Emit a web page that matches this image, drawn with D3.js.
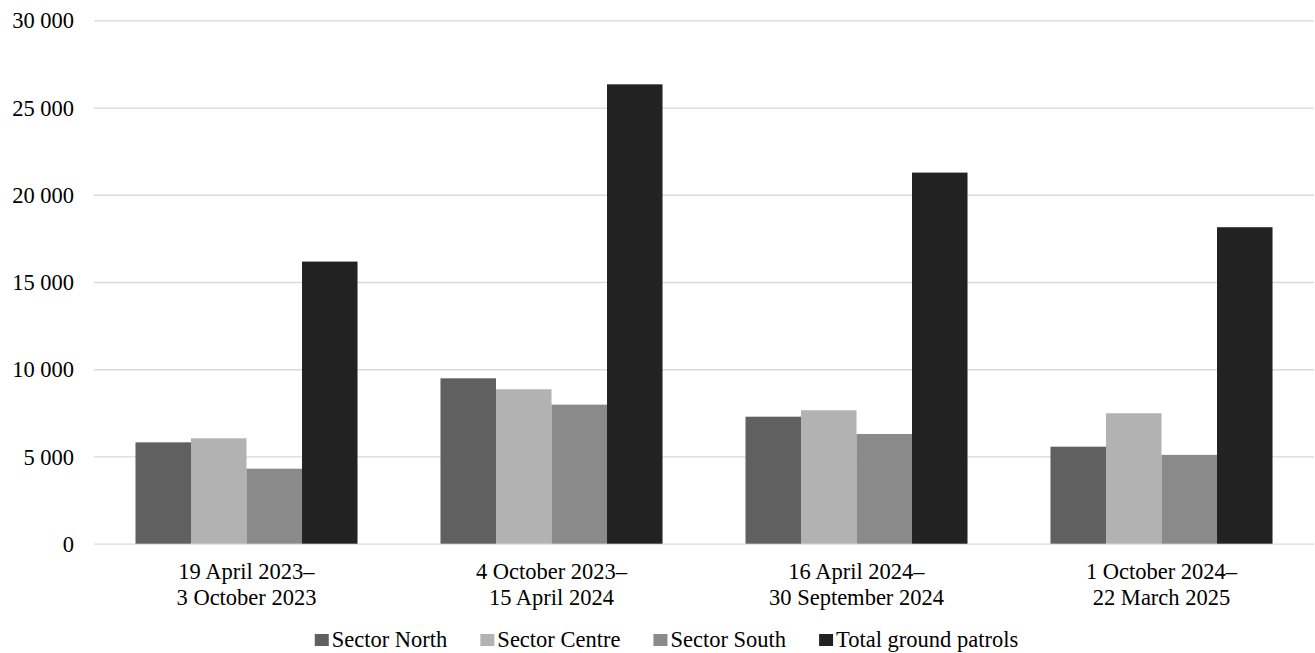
<!DOCTYPE html>
<html>
<head>
<meta charset="utf-8">
<script src="https://cdn.jsdelivr.net/npm/d3@7.9.0/dist/d3.min.js"></script>
<style>
  body { margin: 0; background: #fff; }
  svg text { font-family: "Liberation Serif", "Times New Roman", serif; fill: #000; }
</style>
</head>
<body>
<svg width="1315" height="653"></svg>
<script>
// data
const periods = [
  ["19 April 2023–", "3 October 2023"],
  ["4 October 2023–", "15 April 2024"],
  ["16 April 2024–", "30 September 2024"],
  ["1 October 2024–", "22 March 2025"]
];
const seriesNames = ["Sector North", "Sector Centre", "Sector South", "Total ground patrols"];
const seriesColors = ["#606060", "#b2b2b2", "#8a8a8a", "#222222"];
const sectorNorth = [5810, 9480, 7280, 5560];
const sectorCentre = [6040, 8850, 7650, 7480];
const sectorSouth = [4300, 7970, 6290, 5090];
const totalPatrols = [16170, 26330, 21270, 18140];
const yTicks = [0, 5000, 10000, 15000, 20000, 25000, 30000];

const allSeries = [sectorNorth, sectorCentre, sectorSouth, totalPatrols];

const svg = d3.select('svg');
const fontSize = 22.5;

let x0 = d3.scaleBand()
  .domain(d3.range(periods.length))
  .range([94, 1314])
  .paddingInner(0.272)
  .paddingOuter(0.136);

let x1 = d3.scaleBand()
  .domain(d3.range(seriesNames.length))
  .range([0, x0.bandwidth()]);

let y = d3.scaleLinear().domain([0, 30000]).range([543.7, 20.3]);

const loc = d3.formatLocale({ decimal: ".", thousands: " ", grouping: [3], currency: ["", ""] });
const fmt = loc.format(",d");

// gridlines + y labels
let yAxis = svg.append('g')
  .attr('transform', 'translate(94,0)')
  .call(d3.axisLeft(y).tickValues(yTicks).tickFormat(fmt).tickSize(-1220).tickPadding(20));
yAxis.select('.domain').remove();
yAxis.selectAll('line').attr('stroke', '#d9d9d9').attr('stroke-width', 1.3);
yAxis.selectAll('text')
  .attr('font-size', fontSize)
  .attr('font-family', '"Liberation Serif", serif')
  .attr('fill', '#000')
  .attr('dy', '0.34em');

// bars
let groups = svg.append('g').selectAll('g')
  .data(periods)
  .join('g')
  .attr('transform', (d, i) => `translate(${x0(i)},0)`);

groups.selectAll('rect')
  .data((d, i) => allSeries.map((s, k) => ({ k: k, v: s[i] })))
  .join('rect')
  .attr('x', d => x1(d.k))
  .attr('width', x1.bandwidth())
  .attr('y', d => y(d.v))
  .attr('height', d => y(0) - y(d.v))
  .attr('fill', d => seriesColors[d.k]);

// x labels
groups.append('text')
  .attr('x', x0.bandwidth() / 2)
  .attr('text-anchor', 'middle')
  .attr('font-size', fontSize)
  .selectAll('tspan')
  .data(d => d)
  .join('tspan')
  .attr('x', x0.bandwidth() / 2)
  .attr('y', (d, j) => 579 + j * 26)
  .text(d => d);

// legend
let legend = svg.append('g');
let lx = 0;
const gap = 33;
seriesNames.forEach((name, i) => {
  let item = legend.append('g').attr('transform', `translate(${lx},0)`);
  item.append('rect')
    .attr('x', 0).attr('y', -12.5)
    .attr('width', 14).attr('height', 12)
    .attr('fill', seriesColors[i]);
  let t = item.append('text')
    .attr('x', 17).attr('y', 0)
    .attr('font-size', fontSize)
    .text(name);
  lx += 17 + t.node().getComputedTextLength() + gap;
});
let legendW = lx - gap;
legend.attr('transform', `translate(${666.5 - legendW / 2},646.5)`);
</script>
</body>
</html>
